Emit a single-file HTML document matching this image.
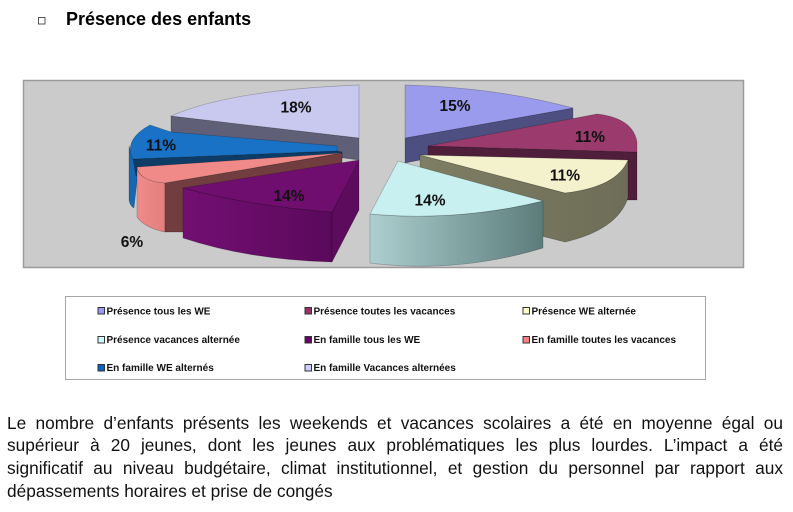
<!DOCTYPE html>
<html>
<head>
<meta charset="utf-8">
<style>
  html, body { margin:0; padding:0; background:#ffffff; }
  body { width:793px; height:512px; position:relative; overflow:hidden; font-family:"Liberation Sans", Arial, sans-serif; }
  svg { position:absolute; left:0; top:0; }
  .para { position:absolute; left:7px; width:776px; font-size:17.3px; line-height:22.6px; color:#111; white-space:nowrap; }
  .j { text-align:justify; text-align-last:justify; white-space:normal; }
</style>
</head>
<body>
<svg width="793" height="512" viewBox="0 0 793 512" xmlns="http://www.w3.org/2000/svg">
  <defs>
    <linearGradient id="gPurple" x1="0" y1="0" x2="1" y2="0">
      <stop offset="0" stop-color="#730f73"/>
      <stop offset="1" stop-color="#5a0a5b"/>
    </linearGradient>
    <linearGradient id="gCyan" x1="0" y1="0" x2="1" y2="0">
      <stop offset="0" stop-color="#aecfcf"/>
      <stop offset="1" stop-color="#5c7c7c"/>
    </linearGradient>
    <linearGradient id="gOlive" x1="0" y1="0" x2="1" y2="0">
      <stop offset="0" stop-color="#7e7e64"/>
      <stop offset="1" stop-color="#6e6e58"/>
    </linearGradient>
    <linearGradient id="gPink" x1="0" y1="0" x2="1" y2="0">
      <stop offset="0" stop-color="#f08b89"/>
      <stop offset="1" stop-color="#e27f7d"/>
    </linearGradient>
  </defs>

  <!-- Title -->
  <rect x="38.5" y="17.5" width="6.5" height="6.5" fill="none" stroke="#555" stroke-width="1"/>
  <text x="66" y="25" font-family="Liberation Sans, Arial, sans-serif" font-weight="bold" font-size="18" fill="#000">Présence des enfants</text>

  <!-- Plot area -->
  <rect x="23.5" y="80.5" width="720" height="187" fill="#cbcbcb" stroke="#9b9b9b" stroke-width="1.5"/>

  <g stroke="#000" stroke-opacity="0.25" stroke-width="0.7" stroke-linejoin="round">
    <!-- Lavender 18% -->
    <polygon points="171,116 359,138 359,160 171,136" fill="#5f5f78"/>
    <path d="M171,116 Q230,90 359,85 L359,138 Z" fill="#c9c9ef"/>

    <!-- Blue 11% -->
    <path d="M129,146 L129,200 Q130,206 134,208 L138,172 L133,159 Z" fill="#1767b4"/>
    <path d="M133,159 L337,151 L342,152 L342,162 L136,176 Z" fill="#0d3d66"/>
    <path d="M150,125 L171,132 L337,146 L337,151 L133,159 C128,150 128,137 150,125 Z" fill="#1a72c6"/>

    <!-- Pink 6% -->
    <path d="M137,167 Q139,181 165,183 L165,232 Q145,228 137,217 Z" fill="url(#gPink)"/>
    <path d="M165,183 L342,153 L342,232 L165,232 Z" fill="#713d3f"/>
    <path d="M137,167 L342,153 L165,183 Q139,181 137,167 Z" fill="#f08a88"/>

    <!-- Purple 14% -->
    <path d="M183,188 Q250,206 332,212 L332,262 Q250,260 183,238 Z" fill="url(#gPurple)"/>
    <path d="M332,212 L359,160 L359,210 L332,262 Z" fill="#5c0b5d"/>
    <path d="M183,188 L359,160 L332,212 Q250,206 183,188 Z" fill="#700e70"/>

    <!-- Violet 15% -->
    <polygon points="405,138 573,108 573,130 405,163" fill="#4d4f80"/>
    <path d="M405,85 Q497,87.5 573,108 L405,138 Z" fill="#9b9bee"/>

    <!-- Magenta 11% -->
    <polygon points="428,146 637,152 637,200 428,200" fill="#4f1e3b"/>
    <path d="M428,146 L597,114 Q633,118 637,142 L637,152 Z" fill="#9b3b6d"/>

    <!-- Cream 11% -->
    <path d="M420,155 L565,193 Q617,187 628,160 L628,198 Q617,230 565,242 L420,205 Z" fill="url(#gOlive)"/>
    <path d="M420,155 L628,160 Q617,187 565,193 Z" fill="#f4f2cc"/>

    <!-- Cyan 14% -->
    <path d="M370,214 Q457,222 543,201 L543,248 Q457,274 370,263 Z" fill="url(#gCyan)"/>
    <path d="M398,161 L543,201 Q457,222 370,214 Z" fill="#c8f0f0"/>
  </g>

  <!-- Data labels -->
  <g font-family="Liberation Sans, Arial, sans-serif" font-weight="bold" font-size="15.5" fill="#111" text-anchor="middle">
    <text x="296" y="112.5">18%</text>
    <text x="161" y="150.5">11%</text>
    <text x="289" y="201">14%</text>
    <text x="132" y="247">6%</text>
    <text x="455" y="111">15%</text>
    <text x="590" y="142">11%</text>
    <text x="565" y="180.5">11%</text>
    <text x="430" y="205.5">14%</text>
  </g>

  <!-- Legend -->
  <rect x="65.5" y="296.5" width="640" height="83" fill="#ffffff" stroke="#a6a6a6" stroke-width="1"/>
  <g stroke="#333" stroke-width="1">
    <rect x="98" y="307.5" width="6.5" height="6.5" fill="#9999ff"/>
    <rect x="305" y="307.5" width="6.5" height="6.5" fill="#993366"/>
    <rect x="523" y="307.5" width="6.5" height="6.5" fill="#ffffcc"/>
    <rect x="98" y="336.5" width="6.5" height="6.5" fill="#ccffff"/>
    <rect x="305" y="336.5" width="6.5" height="6.5" fill="#660066"/>
    <rect x="523" y="336.5" width="6.5" height="6.5" fill="#ff8080"/>
    <rect x="98" y="364.5" width="6.5" height="6.5" fill="#0066cc"/>
    <rect x="305" y="364.5" width="6.5" height="6.5" fill="#ccccff"/>
  </g>
  <g font-family="Liberation Sans, Arial, sans-serif" font-weight="bold" font-size="10" fill="#111">
    <text x="106.5" y="314.3">Présence tous les WE</text>
    <text x="313.5" y="314.3">Présence toutes les vacances</text>
    <text x="531.5" y="314.3">Présence WE alternée</text>
    <text x="106.5" y="343.2">Présence vacances alternée</text>
    <text x="313.5" y="343.2">En famille tous les WE</text>
    <text x="531.5" y="343.2">En famille toutes les vacances</text>
    <text x="106.5" y="371.2">En famille WE alternés</text>
    <text x="313.5" y="371.2">En famille Vacances alternées</text>
  </g>
</svg>

<div class="para j" style="top:411.7px;">Le nombre d’enfants présents les weekends et vacances scolaires a été en moyenne égal ou</div>
<div class="para j" style="top:434.3px;">supérieur à 20 jeunes, dont les jeunes aux problématiques les plus lourdes. L’impact a été</div>
<div class="para j" style="top:456.9px;">significatif au niveau budgétaire, climat institutionnel, et gestion du personnel par rapport aux</div>
<div class="para" style="top:479.5px;">dépassements horaires et prise de congés</div>
</body>
</html>
